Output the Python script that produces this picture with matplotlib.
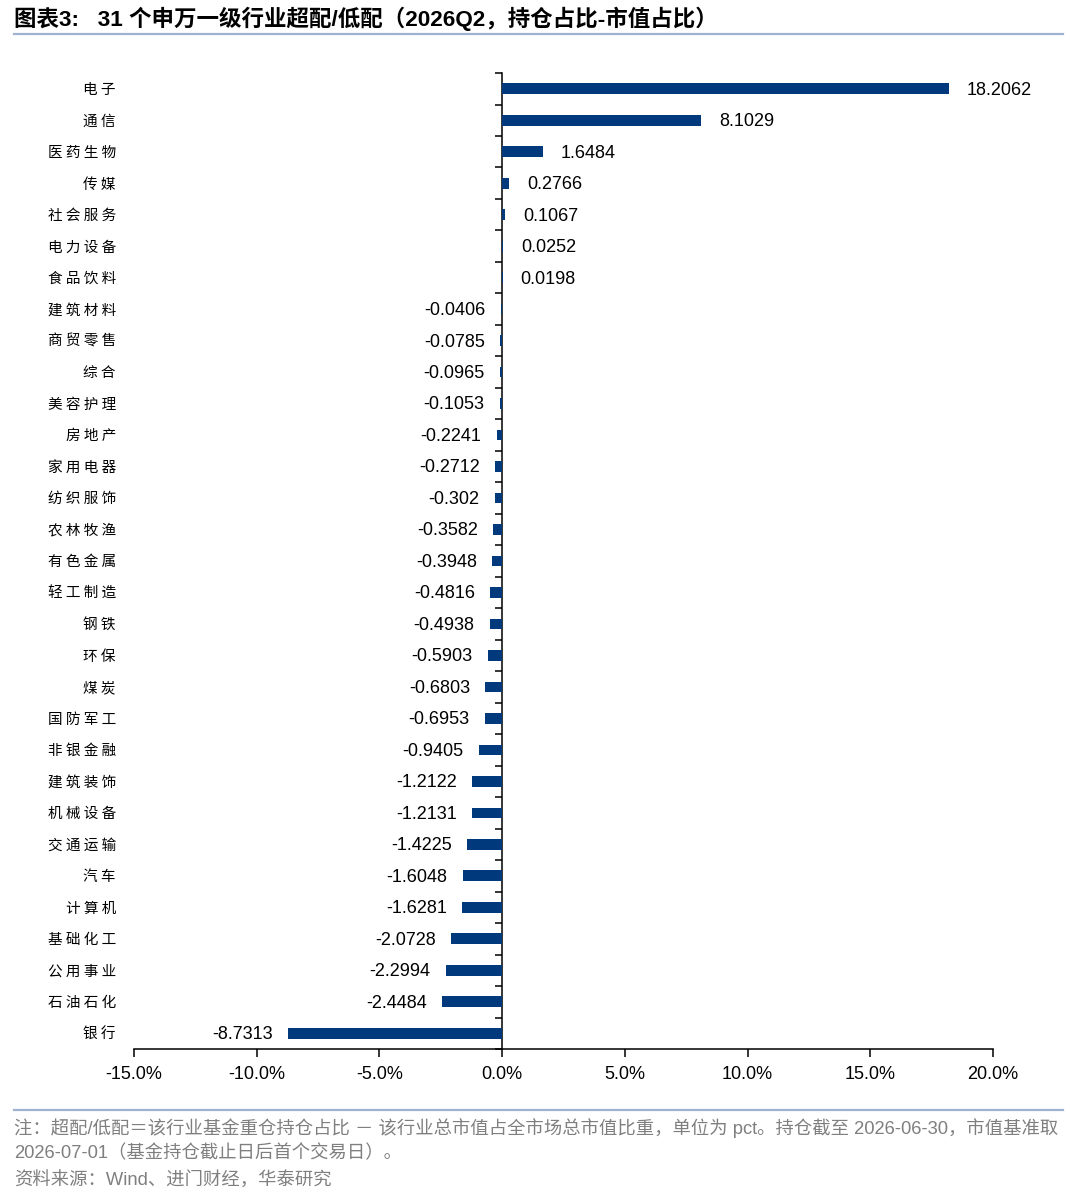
#!/usr/bin/env python
"""Fund over/under-weight by SW level-1 industry, 2026Q2."""

import matplotlib

matplotlib.use("Agg")
import matplotlib.pyplot as plt
from matplotlib.ticker import FuncFormatter, FixedLocator
import matplotlib.transforms as mtransforms

plt.rcParams["font.family"] = ["Liberation Sans", "Noto Sans CJK SC", "DejaVu Sans"]

INDUSTRIES = [
    "电子", "通信", "医药生物", "传媒", "社会服务", "电力设备", "食品饮料",
    "建筑材料", "商贸零售", "综合", "美容护理", "房地产", "家用电器", "纺织服饰",
    "农林牧渔", "有色金属", "轻工制造", "钢铁", "环保", "煤炭", "国防军工",
    "非银金融", "建筑装饰", "机械设备", "交通运输", "汽车", "计算机", "基础化工",
    "公用事业", "石油石化", "银行",
]
OVERWEIGHT = [
    18.2062, 8.1029, 1.6484, 0.2766, 0.1067, 0.0252, 0.0198,
    -0.0406, -0.0785, -0.0965, -0.1053, -0.2241, -0.2712, -0.302,
    -0.3582, -0.3948, -0.4816, -0.4938, -0.5903, -0.6803, -0.6953,
    -0.9405, -1.2122, -1.2131, -1.4225, -1.6048, -1.6281, -2.0728,
    -2.2994, -2.4484, -8.7313,
]
X_TICKS = [-15, -10, -5, 0, 5, 10, 15, 20]

TITLE = "图表3:   31 个申万一级行业超配/低配（2026Q2，持仓占比-市值占比）"
NOTE_1 = ("注：超配/低配＝该行业基金重仓持仓占比 － 该行业总市值占全市场总市值比重，"
          "单位为 pct。持仓截至 2026-06-30，市值基准取")
NOTE_2 = "2026-07-01（基金持仓截止日后首个交易日）。"
SOURCE = "资料来源：Wind、进门财经，华泰研究"

BAR_COLOR = "#003A7D"
RULE_COLOR = "#9DB3CF"
GREY = "#7F7F7F"


def main() -> None:
    fig = plt.figure(figsize=(10.8, 11.99), dpi=100)
    ax = fig.add_axes([0.1241, 0.1251, 0.9194 - 0.1241, 0.9391 - 0.1251])

    ypos = list(range(len(INDUSTRIES)))
    ax.barh(ypos, OVERWEIGHT, height=0.34, color=BAR_COLOR, zorder=3)

    ax.set_xlim(X_TICKS[0], X_TICKS[-1])
    ax.set_ylim(len(INDUSTRIES) - 0.5, -0.5)
    ax.xaxis.set_major_locator(FixedLocator(X_TICKS))
    ax.xaxis.set_major_formatter(FuncFormatter(lambda v, _: f"{v:.1f}%"))
    ax.tick_params(axis="x", direction="out", length=6, width=1.1, labelsize=13, pad=6)

    ax.spines["top"].set_visible(False)
    ax.spines["right"].set_visible(False)
    ax.spines["left"].set_position(("data", 0))
    for side in ("left", "bottom"):
        ax.spines[side].set_linewidth(1.1)

    boundaries = [i - 0.5 for i in range(len(INDUSTRIES) + 1)]
    ax.set_yticks(boundaries)
    ax.set_yticklabels([])
    ax.tick_params(axis="y", direction="out", length=5, width=1.1)

    trans = mtransforms.blended_transform_factory(ax.transAxes, ax.transData)
    for i, name in enumerate(INDUSTRIES):
        ax.text(-0.021, i + 0.04, " ".join(name), transform=trans, ha="right", va="center",
                fontsize=10.5, family=["Noto Sans CJK SC"])

    for i, v in enumerate(OVERWEIGHT):
        if v >= 0:
            ax.annotate(f"{v:g}", (v, i), xytext=(13, -1), textcoords="offset points",
                        ha="left", va="center", fontsize=13)
        else:
            ax.annotate(f"{v:g}", (v, i), xytext=(-11, -1), textcoords="offset points",
                        ha="right", va="center", fontsize=13)

    fig.text(0.013, 0.984, TITLE, ha="left", va="center", fontsize=16.2, fontweight="bold")
    fig.add_artist(plt.Line2D([0.013, 0.984], [0.9716, 0.9716], color=RULE_COLOR, lw=1.6))
    fig.add_artist(plt.Line2D([0.013, 0.984], [0.0742, 0.0742], color=RULE_COLOR, lw=1.6))

    fig.text(0.013, 0.0592, NOTE_1, ha="left", va="center", fontsize=13.2, color=GREY)
    fig.text(0.013, 0.0383, NOTE_2, ha="left", va="center", fontsize=13.2, color=GREY)
    fig.text(0.013, 0.0150, SOURCE, ha="left", va="center", fontsize=13.2, color=GREY)

    fig.savefig("out.png", dpi=100)
    plt.close(fig)


if __name__ == "__main__":
    main()
